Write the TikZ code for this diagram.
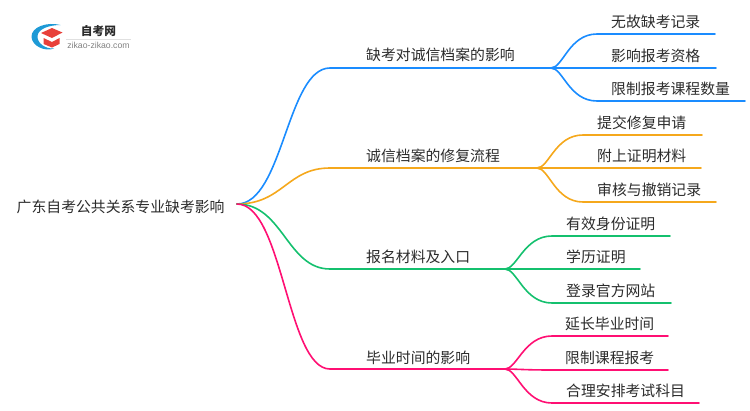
\documentclass[tikz,border=0pt]{standalone}
\usepackage{fontspec}
\setmainfont{Noto Sans CJK SC}
\setsansfont{Liberation Sans}
\definecolor{cblue}{HTML}{1A8CFF}
\definecolor{corange}{HTML}{F5A81C}
\definecolor{cgreen}{HTML}{14C06E}
\definecolor{cpink}{HTML}{FF0F73}
\definecolor{ctext}{HTML}{2B2B2B}
\definecolor{clogoblue}{HTML}{1E9AD6}
\definecolor{clogored}{HTML}{E8403A}
\tikzset{
  lbl/.style={anchor=west,inner sep=0pt,yshift=-1pt,text=ctext,font=\fontsize{14.85pt}{15pt}\selectfont},
  link/.style={line width=1.6pt,line cap=round},
  bc/.style={to path={.. controls +(46,0) and +(-43,0) .. (\tikztotarget)}},
  lc/.style={to path={.. controls +(12,0) and +(-28,0) .. (\tikztotarget)}},
}
\begin{document}
\begin{tikzpicture}[x=1pt,y=-1pt]
\useasboundingbox (0,0) rectangle (750,410);
% logo
\fill[clogoblue] (60.5,25) .. controls (47,21.5) and (31,27) .. (31.5,37) .. controls (32,46) and (45,52) .. (54,48.5) .. controls (45,49) and (37,43) .. (37.5,36) .. controls (38,29) and (49,25) .. (60.5,25) -- cycle;
\fill[clogored] (41,33) -- (52,28) -- (62.5,32.5) -- (52,38) -- cycle;
\fill[clogored] (43.5,38) -- (52,42) -- (59.5,38) -- (59.5,44) -- (52,47.5) -- (43.5,44) -- cycle;
\node[inner sep=0pt,text=ctext] (logotitle) at (98.5,31) {\bfseries\fontsize{11.7pt}{12pt}\selectfont 自考网};
\draw[black!12,line width=.6pt] (66,39.3) -- (131,39.3);
\node[inner sep=0pt,text=black!50] (logourl) at (98.5,45) {\sffamily\fontsize{8.7pt}{9pt}\selectfont zikao-zikao.com};
% root
\node[lbl] (root) at (16.5,205.5) {广东自考公共关系专业缺考影响};
\coordinate (o) at (237,204);
% branches
\coordinate (b1s) at (330,68);  \coordinate (b1e) at (551,68);
\coordinate (b2s) at (330,168); \coordinate (b2e) at (537,168);
\coordinate (b3s) at (330,269); \coordinate (b3e) at (505,269);
\coordinate (b4s) at (330,369); \coordinate (b4e) at (505,369);
\node[lbl] (b1) at (366,54) {缺考对诚信档案的影响};
\node[lbl] (b2) at (366,155) {诚信档案的修复流程};
\node[lbl] (b3) at (366,256) {报名材料及入口};
\node[lbl] (b4) at (366,357) {毕业时间的影响};
\draw[link,cblue] (o) to[bc] (b1s) -- (b1e);
\draw[link,corange] (o) to[bc] (b2s) -- (b2e);
\draw[link,cgreen] (o) to[bc] (b3s) -- (b3e);
\draw[link,cpink] (o) to[bc] (b4s) -- (b4e);
% blue leaves
\coordinate (l11s) at (597,34);  \coordinate (l11e) at (715,34);
\coordinate (l12s) at (597,68);  \coordinate (l12e) at (716,68);
\coordinate (l13s) at (597,101); \coordinate (l13e) at (745,101);
\node[lbl] (l11) at (611,21) {无故缺考记录};
\node[lbl] (l12) at (611,55) {影响报考资格};
\node[lbl] (l13) at (611,88) {限制报考课程数量};
\draw[link,cblue] (b1e) to[lc] (l11s) -- (l11e);
\draw[link,cblue] (b1e) to[lc] (l12s) -- (l12e);
\draw[link,cblue] (b1e) to[lc] (l13s) -- (l13e);
% orange leaves
\coordinate (l21s) at (583,135); \coordinate (l21e) at (702,135);
\coordinate (l22s) at (583,168); \coordinate (l22e) at (701,168);
\coordinate (l23s) at (583,202); \coordinate (l23e) at (716,202);
\node[lbl] (l21) at (597,122) {提交修复申请};
\node[lbl] (l22) at (597,155) {附上证明材料};
\node[lbl] (l23) at (597,189) {审核与撤销记录};
\draw[link,corange] (b2e) to[lc] (l21s) -- (l21e);
\draw[link,corange] (b2e) to[lc] (l22s) -- (l22e);
\draw[link,corange] (b2e) to[lc] (l23s) -- (l23e);
% green leaves
\coordinate (l31s) at (552,236); \coordinate (l31e) at (670,236);
\coordinate (l32s) at (552,269); \coordinate (l32e) at (640,269);
\coordinate (l33s) at (552,303); \coordinate (l33e) at (671,303);
\node[lbl] (l31) at (566,223) {有效身份证明};
\node[lbl] (l32) at (566,256) {学历证明};
\node[lbl] (l33) at (566,290) {登录官方网站};
\draw[link,cgreen] (b3e) to[lc] (l31s) -- (l31e);
\draw[link,cgreen] (b3e) to[lc] (l32s) -- (l32e);
\draw[link,cgreen] (b3e) to[lc] (l33s) -- (l33e);
% pink leaves
\coordinate (l41s) at (552,336); \coordinate (l41e) at (668,336);
\coordinate (l42s) at (552,370); \coordinate (l42e) at (668,370);
\coordinate (l43s) at (552,403); \coordinate (l43e) at (699,403);
\node[lbl] (l41) at (565,323) {延长毕业时间};
\node[lbl] (l42) at (565,357) {限制课程报考};
\node[lbl] (l43) at (566,390) {合理安排考试科目};
\draw[link,cpink] (b4e) to[lc] (l41s) -- (l41e);
\draw[link,cpink] (b4e) to[lc] (l42s) -- (l42e);
\draw[link,cpink] (b4e) to[lc] (l43s) -- (l43e);
\end{tikzpicture}
\end{document}
